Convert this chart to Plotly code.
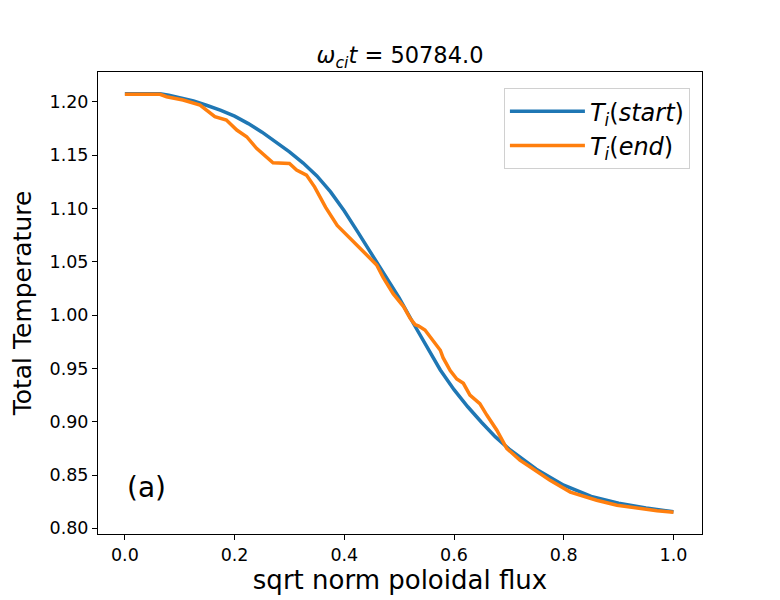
import plotly.graph_objects as go

# profiles
psi_start = [0.0, 0.064, 0.08, 0.10, 0.125, 0.15, 0.175, 0.20, 0.225, 0.25,
             0.275, 0.30, 0.325, 0.35, 0.375, 0.40, 0.425, 0.45, 0.475, 0.50,
             0.525, 0.55, 0.575, 0.60, 0.625, 0.65, 0.675, 0.70, 0.75, 0.80,
             0.85, 0.90, 0.95, 1.0]
ti_start = [1.2075, 1.2075, 1.2062, 1.2040, 1.2007, 1.1965, 1.1920, 1.1865,
            1.1795, 1.1715, 1.1625, 1.1530, 1.1425, 1.1305, 1.1155, 1.0975,
            1.0775, 1.0565, 1.0365, 1.0160, 0.9930, 0.9700, 0.9485, 0.9300,
            0.9140, 0.8995, 0.8860, 0.8745, 0.8555, 0.8405, 0.8300, 0.8235,
            0.8190, 0.8155]

psi_end = [0.0, 0.064, 0.076, 0.106, 0.137, 0.164, 0.185, 0.204, 0.222, 0.240,
           0.270, 0.300, 0.313, 0.331, 0.346, 0.366, 0.387, 0.410, 0.423,
           0.435, 0.447, 0.459, 0.471, 0.489, 0.508, 0.520, 0.529, 0.535,
           0.547, 0.562, 0.575, 0.580, 0.593, 0.605, 0.617, 0.629, 0.647,
           0.660, 0.678, 0.696, 0.720, 0.739, 0.775, 0.812, 0.860, 0.897,
           0.939, 0.970, 1.0]
ti_end = [1.207, 1.207, 1.2047, 1.2016, 1.1969, 1.186, 1.1828, 1.1735, 1.1672,
          1.1563, 1.1428, 1.1422, 1.136, 1.1312, 1.120, 1.101, 1.084, 1.072,
          1.066, 1.059, 1.053, 1.047, 1.035, 1.020, 1.008, 0.997, 0.991, 0.990,
          0.986, 0.976, 0.967, 0.960, 0.948, 0.940, 0.936, 0.925, 0.917,
          0.906, 0.892, 0.875, 0.864, 0.8576, 0.845, 0.834, 0.8264, 0.8217,
          0.8186, 0.8165, 0.815]

time_label = "50784.0"
font = "DejaVu Sans"

fig = go.Figure()
fig.add_trace(go.Scatter(
    x=psi_start, y=ti_start, mode="lines",
    line=dict(color="#1f77b4", width=3.5),
    name="<i>T</i><sub><i>i</i></sub>(<i>start</i>)"))
fig.add_trace(go.Scatter(
    x=psi_end, y=ti_end, mode="lines",
    line=dict(color="#ff7f0e", width=3.5),
    name="<i>T</i><sub><i>i</i></sub>(<i>end</i>)"))

fig.add_annotation(x=0.0, y=0.838, xref="x", yref="y", text="(a)",
                   showarrow=False, xanchor="left", yanchor="middle",
                   font=dict(size=28, color="black", family=font))

axis_style = dict(showline=True, mirror=True, linecolor="black", linewidth=1,
                  ticks="outside", ticklen=5, tickcolor="black", showgrid=False,
                  zeroline=False, tickfont=dict(size=17.5, color="black", family=font))

fig.update_xaxes(range=[-0.049, 1.052], tickvals=[0, 0.2, 0.4, 0.6, 0.8, 1.0],
                 tickformat=".1f",
                 title=dict(text="sqrt norm poloidal flux", standoff=4,
                            font=dict(size=26, color="black", family=font)),
                 **axis_style)
fig.update_yaxes(range=[0.7947, 1.2279],
                 tickvals=[0.80, 0.85, 0.90, 0.95, 1.00, 1.05, 1.10, 1.15, 1.20],
                 tickformat=".2f",
                 title=dict(text="Total Temperature", standoff=27,
                            font=dict(size=25, color="black", family=font)),
                 **axis_style)

# page body has an 8px margin, so the figure is a bit smaller and shifted
fig.update_layout(
    width=772, height=592,
    margin=dict(l=90, r=78, t=64, b=66, autoexpand=False),
    paper_bgcolor="white", plot_bgcolor="white",
    font=dict(family=font, color="black"),
    title=dict(text="<i>ω</i><sub><i>ci</i></sub><i>t</i> = " + time_label,
               x=0.5, xref="paper", y=1 - 47 / 592, yref="container",
               xanchor="center", yanchor="middle",
               font=dict(size=22.5, color="black", family=font)),
    legend=dict(x=0.98, y=0.965, xanchor="right", yanchor="top",
                bgcolor="rgba(255,255,255,0.8)", bordercolor="#d0d0d0",
                borderwidth=1, font=dict(size=24, color="black", family=font),
                itemwidth=75, tracegroupgap=4),
)

fig.write_html("out.html")
